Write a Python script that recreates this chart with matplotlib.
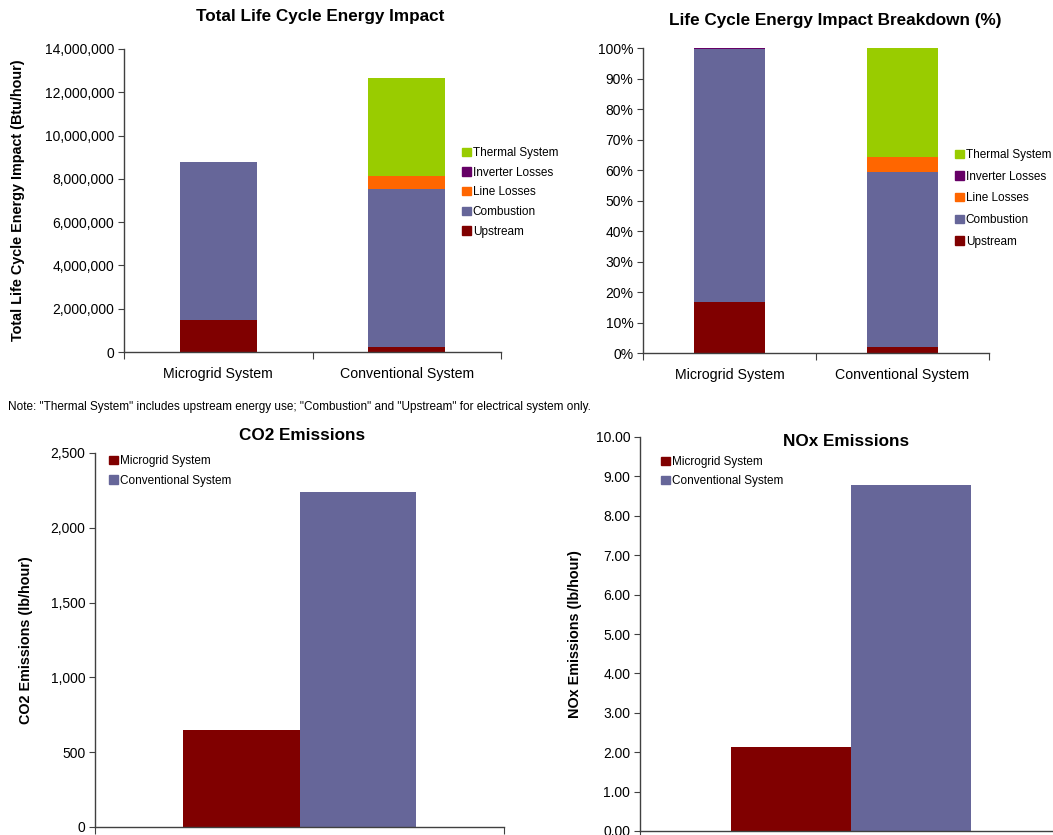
import matplotlib
matplotlib.use("Agg")
import matplotlib.pyplot as plt
import numpy as np
from matplotlib.ticker import FuncFormatter, MultipleLocator
from matplotlib.patches import Patch

plt.rcParams['font.family'] = ['Liberation Sans', 'DejaVu Sans']

# ---- data ----
systems = ["Microgrid System", "Conventional System"]
components = ["Upstream", "Combustion", "Line Losses", "Inverter Losses", "Thermal System"]
upstream = [1480000, 230000]
combustion = [7280000, 7300000]
line_losses = [0, 620000]
inverter_losses = [20000, 0]
thermal_system = [0, 4510000]

co2_emissions = [650, 2240]
nox_emissions = [2.13, 8.78]

colors = {
    "Upstream": "#800000",
    "Combustion": "#666699",
    "Line Losses": "#FF6600",
    "Inverter Losses": "#660066",
    "Thermal System": "#99CC00",
}
system_colors = ["#800000", "#666699"]

W, H = 1053, 835
fig = plt.figure(figsize=(W / 100, H / 100), dpi=100)
fig.patch.set_facecolor("white")


def add_ax(left, right, top, bottom):
    return fig.add_axes([left / W, 1 - bottom / H, (right - left) / W, (bottom - top) / H])


def style_axes(ax):
    for s in ("top", "right"):
        ax.spines[s].set_visible(False)
    for s in ("left", "bottom"):
        ax.spines[s].set_color("#404040")
        ax.spines[s].set_linewidth(1.0)
    ax.tick_params(axis="y", direction="out", length=4, color="#404040",
                   labelsize=10, pad=3)
    ax.tick_params(axis="x", direction="out", length=5, color="#404040")


def fig_text(x, y, s, **kw):
    fig.text(x / W, 1 - y / H, s, **kw)


def category_axis(ax, n):
    ax.set_xlim(-0.5, n - 0.5)
    ax.set_xticks(np.arange(-0.5, n, 1.0))
    ax.set_xticklabels([])
    ax.set_xticks(np.arange(n), minor=True)
    ax.set_xticklabels(systems[:n], minor=True, fontsize=10.2)
    ax.tick_params(axis="x", which="minor", length=0, pad=11)


def legend(ax, handles, labels, x, y, spacing):
    ax.legend(handles, labels, loc="upper left",
              bbox_to_anchor=(x / W, 1 - y / H), bbox_transform=fig.transFigure,
              frameon=False, fontsize=8.5, handlelength=0.72, handleheight=0.72,
              handletextpad=0.2, labelspacing=spacing, borderaxespad=0, borderpad=0)


stack = [upstream, combustion, line_losses, inverter_losses, thermal_system]
totals = np.sum(np.array(stack, dtype=float), axis=0)
xpos = np.arange(len(systems))
bar_w = 0.41
title_kw = dict(ha="center", va="center", fontsize=12.3, fontweight="bold")
ylabel_kw = dict(fontsize=10.4, fontweight="bold")

# ---- Total life cycle energy impact ----
ax1 = add_ax(124, 501, 49, 352)
style_axes(ax1)
bottom = np.zeros(len(systems))
for name, vals in zip(components, stack):
    ax1.bar(xpos, vals, bar_w, bottom=bottom, color=colors[name], label=name)
    bottom += np.array(vals, dtype=float)
ax1.set_ylim(0, 14000000)
ax1.yaxis.set_major_locator(MultipleLocator(2000000))
ax1.yaxis.set_major_formatter(FuncFormatter(lambda v, p: f"{v:,.0f}"))
category_axis(ax1, len(systems))
ax1.set_ylabel("Total Life Cycle Energy Impact (Btu/hour)", **ylabel_kw)
ax1.yaxis.set_label_coords(-0.262, 0.5)
fig_text(320, 17, "Total Life Cycle Energy Impact", **title_kw)
handles = [Patch(color=colors[c]) for c in components][::-1]
legend(ax1, handles, components[::-1], 462, 147, 0.65)

# ---- percentage breakdown ----
ax2 = add_ax(643, 989, 48, 353)
style_axes(ax2)
bottom = np.zeros(len(systems))
for name, vals in zip(components, stack):
    share = np.array(vals, dtype=float) / totals * 100
    ax2.bar(xpos, share, bar_w, bottom=bottom, color=colors[name], label=name)
    bottom += share
ax2.set_ylim(0, 100)
ax2.yaxis.set_major_locator(MultipleLocator(10))
ax2.yaxis.set_major_formatter(FuncFormatter(lambda v, p: f"{v:.0f}%"))
category_axis(ax2, len(systems))
fig_text(835, 21, "Life Cycle Energy Impact Breakdown (%)", **title_kw)
legend(ax2, handles, components[::-1], 955, 149, 0.82)

fig_text(8, 407, 'Note: "Thermal System" includes upstream energy use; "Combustion" and '
         '"Upstream" for electrical system only.', ha="left", va="center", fontsize=8.5)

# ---- emissions charts ----
def emissions_chart(rect, values, ylim, step, fmt, ylabel, title, title_xy,
                    legend_xy, ylabel_x, spacing):
    ax = add_ax(*rect)
    style_axes(ax)
    w = 0.284
    offsets = [-w / 2, w / 2]
    for i, (sys_name, v) in enumerate(zip(systems, values)):
        ax.bar(offsets[i], v, w, color=system_colors[i], label=sys_name)
    ax.set_xlim(-0.5, 0.5)
    ax.set_xticks([-0.5, 0.5])
    ax.set_xticklabels([])
    ax.set_ylim(*ylim)
    ax.yaxis.set_major_locator(MultipleLocator(step))
    ax.yaxis.set_major_formatter(FuncFormatter(fmt))
    ax.set_ylabel(ylabel, **ylabel_kw)
    ax.yaxis.set_label_coords(ylabel_x, 0.5)
    fig_text(title_xy[0], title_xy[1], title, **title_kw)
    h = [Patch(color=c) for c in system_colors]
    legend(ax, h, systems, legend_xy[0], legend_xy[1], spacing)
    return ax


emissions_chart((95, 504, 453, 827), co2_emissions, (0, 2500), 500,
                lambda v, p: f"{v:,.0f}", "CO2 Emissions (lb/hour)", "CO2 Emissions",
                (302, 436), (109, 455), -0.152, 0.65)
emissions_chart((640, 1062, 437, 831), nox_emissions, (0, 10), 1,
                lambda v, p: f"{v:.2f}", "NOx Emissions (lb/hour)", "NOx Emissions",
                (846, 441), (661, 456), -0.137, 0.6)

fig.savefig("out.png", dpi=100, facecolor="white")
